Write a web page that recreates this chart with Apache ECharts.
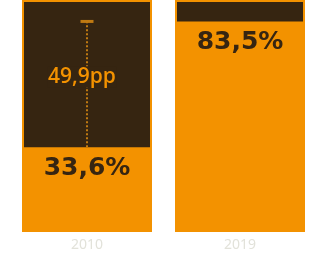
<!DOCTYPE html>
<html><head><meta charset="utf-8">
<script src="https://cdn.jsdelivr.net/npm/echarts@6/dist/echarts.min.js"></script>
<style>html,body{margin:0;padding:0;background:#fff}#c{width:328px;height:260px}</style>
</head><body><div id="c"></div>
<script>
var categories = ['2010', '2019'];
var shares = [33.6, 83.5];
var valueLabels = ['33,6%', '83,5%'];
var axisMax = 92;
var diffLabel = '49,9pp';
var diffFrom = 33.6;
var diffTo = 83.5;

var orange = '#f39200', dark = '#362511', lineCol = '#c07a12';
var chart = echarts.init(document.getElementById('c'));
chart.setOption({
  animation: false,
  grid: {left: 10.5, right: 11.5, top: 0, bottom: 28},
  xAxis: {type: 'category', data: categories,
    axisLine: {show: false}, axisTick: {show: false},
    axisLabel: {color: '#e2e2da', fontSize: 14, fontFamily: '"Noto Sans", sans-serif', margin: 6}},
  yAxis: {type: 'value', min: 0, max: axisMax, show: false, splitLine: {show: false}},
  series: [
    {type: 'bar', barWidth: 130, data: categories.map(function(){return axisMax;}),
      itemStyle: {color: dark, borderColor: orange, borderWidth: 2}, silent: true},
    {type: 'bar', barWidth: 130, barGap: '-100%', data: shares,
      itemStyle: {color: orange},
      label: {show: true, position: 'insideTop', distance: 9,
        formatter: function(p){return valueLabels[p.dataIndex];},
        color: dark, fontSize: 25, fontWeight: 'bold', fontFamily: '"DejaVu Sans", sans-serif'}},
    {type: 'line', data: [[categories[0], diffFrom], [categories[0], diffTo]],
      symbol: 'none', lineStyle: {color: lineCol, width: 2, type: [2, 2]}, z: 5},
    {type: 'scatter', data: [[categories[0], diffTo]], symbol: 'rect', symbolSize: [13, 3],
      itemStyle: {color: lineCol, opacity: 1}, z: 6},
    {type: 'scatter', data: [[categories[0], (diffFrom + diffTo) / 2 + 3]], symbolSize: 0, z: 7,
      itemStyle: {opacity: 1},
      label: {show: true, position: 'inside', formatter: diffLabel, color: orange, opacity: 1,
        fontSize: 21, fontFamily: '"Open Sans", sans-serif', fontWeight: 600,
        backgroundColor: dark, padding: [0, 1], offset: [-5, 0]}}
  ]
});
</script></body></html>
